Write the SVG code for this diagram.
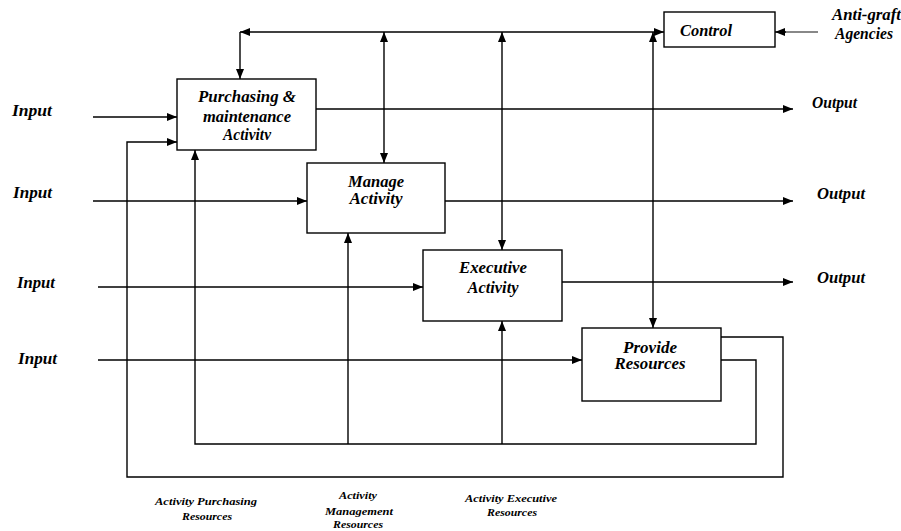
<svg xmlns="http://www.w3.org/2000/svg" width="901" height="531" viewBox="0 0 901 531">
<defs>
<marker id="ah" viewBox="0 0 10 8" refX="10" refY="4" markerWidth="10" markerHeight="8" markerUnits="userSpaceOnUse" orient="auto-start-reverse">
<path d="M0,0 L10,4 L0,8 z" fill="#000"/>
</marker>
<style>
.box{fill:#fff;stroke:#000;stroke-width:1.4}
.ln{fill:none;stroke:#000;stroke-width:1.4}
.gr{fill:none;stroke:#888;stroke-width:2}
.c{text-anchor:middle}
</style>
</defs>
<rect width="901" height="531" fill="#fff"/>
<g id="connectors">
<path class="ln" d="M240 32 H664" marker-start="url(#ah)" marker-end="url(#ah)"/>
<path class="ln" d="M240 32 V79" marker-end="url(#ah)"/>
<path class="ln" d="M384 32 V163" marker-start="url(#ah)" marker-end="url(#ah)"/>
<path class="ln" d="M502 32 V250" marker-start="url(#ah)" marker-end="url(#ah)"/>
<path class="ln" d="M653 32 V328" marker-start="url(#ah)" marker-end="url(#ah)"/>
<path class="gr" d="M818 32 H785"/>
<path class="ln" d="M786 32 H775" marker-end="url(#ah)"/>
<path class="ln" d="M93 117 H177" marker-end="url(#ah)"/>
<path class="ln" d="M93 201 H307" marker-end="url(#ah)"/>
<path class="ln" d="M98 287 H423" marker-end="url(#ah)"/>
<path class="ln" d="M98 360 H582" marker-end="url(#ah)"/>
<path class="ln" d="M316 109 H793" marker-end="url(#ah)"/>
<path class="ln" d="M445 201 H793" marker-end="url(#ah)"/>
<path class="ln" d="M562 282 H793" marker-end="url(#ah)"/>
<path class="ln" d="M721 337 H783 V477 H127 V142 H177" marker-end="url(#ah)"/>
<path class="ln" d="M721 360 H756 V444 H195 V150" marker-end="url(#ah)"/>
<path class="ln" d="M348 444 V233" marker-end="url(#ah)"/>
<path class="ln" d="M502 444 V321" marker-end="url(#ah)"/>
</g>
<g font-family="Liberation Serif, Times New Roman, serif" font-style="italic" font-weight="bold" font-size="16" fill="#000">
<g id="purchasing">
<rect class="box" x="177" y="79" width="139" height="71"/>
<text class="c" x="247" y="102" textLength="98" lengthAdjust="spacingAndGlyphs">Purchasing &amp;</text>
<text class="c" x="247" y="122" textLength="88" lengthAdjust="spacingAndGlyphs">maintenance</text>
<text class="c" x="247" y="140" textLength="48" lengthAdjust="spacingAndGlyphs">Activitv</text>
</g>
<g id="manage">
<rect class="box" x="307" y="163" width="138" height="70"/>
<text class="c" x="376" y="187" textLength="56" lengthAdjust="spacingAndGlyphs">Manage</text>
<text class="c" x="376" y="204" textLength="53" lengthAdjust="spacingAndGlyphs">Activity</text>
</g>
<g id="executive">
<rect class="box" x="423" y="250" width="139" height="71"/>
<text class="c" x="493" y="273" textLength="68" lengthAdjust="spacingAndGlyphs">Executive</text>
<text class="c" x="493" y="293" textLength="51" lengthAdjust="spacingAndGlyphs">Activity</text>
</g>
<g id="provide">
<rect class="box" x="582" y="328" width="139" height="73"/>
<text class="c" x="650" y="353" textLength="54" lengthAdjust="spacingAndGlyphs">Provide</text>
<text class="c" x="650" y="369" textLength="71" lengthAdjust="spacingAndGlyphs">Resources</text>
</g>
<g id="control">
<rect class="box" x="664" y="12" width="111" height="35"/>
<text x="680" y="36" textLength="52" lengthAdjust="spacingAndGlyphs">Control</text>
</g>
<g id="anti-graft">
<text x="832" y="20" textLength="69" lengthAdjust="spacingAndGlyphs">Anti-graft</text>
<text x="835" y="39" textLength="58" lengthAdjust="spacingAndGlyphs">Agencies</text>
</g>
<g id="inputs">
<text x="12" y="116" textLength="40" lengthAdjust="spacingAndGlyphs">Input</text>
<text x="13" y="198" textLength="39" lengthAdjust="spacingAndGlyphs">Input</text>
<text x="17" y="288" textLength="38" lengthAdjust="spacingAndGlyphs">Input</text>
<text x="18" y="364" textLength="39" lengthAdjust="spacingAndGlyphs">Input</text>
</g>
<g id="outputs">
<text x="812" y="108" textLength="45" lengthAdjust="spacingAndGlyphs">Output</text>
<text x="817" y="199" textLength="48" lengthAdjust="spacingAndGlyphs">Output</text>
<text x="817" y="283" textLength="48" lengthAdjust="spacingAndGlyphs">Output</text>
</g>
<g id="resource-labels" font-size="11">
<text class="c" x="206" y="505" textLength="102" lengthAdjust="spacingAndGlyphs">Activity Purchasing</text>
<text class="c" x="207" y="520" textLength="50" lengthAdjust="spacingAndGlyphs">Resources</text>
<text class="c" x="358" y="499" textLength="38" lengthAdjust="spacingAndGlyphs">Activity</text>
<text class="c" x="359" y="515" textLength="68" lengthAdjust="spacingAndGlyphs">Management</text>
<text class="c" x="358" y="528" textLength="50" lengthAdjust="spacingAndGlyphs">Resources</text>
<text class="c" x="511" y="502" textLength="92" lengthAdjust="spacingAndGlyphs">Activity Executive</text>
<text class="c" x="512" y="516" textLength="50" lengthAdjust="spacingAndGlyphs">Resources</text>
</g>
</g>
</svg>
